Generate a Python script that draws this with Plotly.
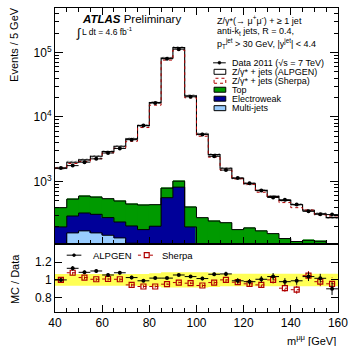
import numpy as np
import plotly.graph_objects as go

# ---- binning: m(mumu) in 5 GeV bins from 40 to 160 GeV ----
edges = np.arange(40, 165, 5)
centers = edges[:-1] + 2.5

# ---- main panel: events / 5 GeV ----
data_events = [1610, 1760, 1990, 2240, 2760, 3250, 4450, 7410, 16470, 80200, 112800, 20600,
               5370, 2455, 1500, 1130, 940, 721, 565, 518, 440, 344, 310, 306]
alpgen_total = [1610, 1990, 2160, 2460, 2910, 3510, 4570, 7340, 16800, 81800, 119000, 21400,
                5450, 2610, 1600, 1120, 920, 726, 586, 508, 436, 357, 316, 275]
sherpa_total = [1610, 1900, 2040, 2255, 2790, 3270, 4200, 6860, 15250, 76350, 109400, 19840,
                5030, 2380, 1500, 1100, 900, 680, 565, 470, 392, 360, 304, 292]

# backgrounds (stacked: multi-jets, electroweak, top)
multijet = [85, 159, 171, 159, 146, 133, 110, 60, 45, 40, 35, 30,
            25, 20, 18, 15, 12, 10, 8, 6, 5, 4, 3, 2]
electroweak = [112, 132, 153, 150, 129, 102, 94, 119, 157, 520, 781, 167,
               60, 40, 30, 25, 20, 18, 15, 12, 10, 8, 7, 6]
top = [195, 241, 269, 263, 265, 262, 242, 252, 234, 227, 194, 204,
       189, 183, 181, 139, 158, 143, 132, 112, 102, 110, 108, 87]

# ---- ratio panel: MC / Data ----
ratio_alpgen = [1.00, 1.13, 1.085, 1.10, 1.055, 1.08, 1.026, 0.99, 1.02, 1.02, 1.055, 1.037,
                1.015, 1.063, 1.067, 0.99, 0.98, 1.007, 1.037, 0.98, 0.99, 1.037, 1.018, 0.90]
ratio_alpgen_err = [0.015, 0.025, 0.02, 0.02, 0.02, 0.02, 0.02, 0.015, 0.012, 0.01, 0.01, 0.012,
                    0.02, 0.02, 0.025, 0.03, 0.03, 0.035, 0.04, 0.04, 0.045, 0.05, 0.05, 0.07]
ratio_sherpa = [1.00, 1.08, 1.026, 1.007, 1.01, 1.007, 0.944, 0.926, 0.926, 0.952, 0.97, 0.963,
                0.937, 0.97, 1.00, 0.974, 0.956, 0.944, 1.00, 0.907, 0.89, 1.048, 0.98, 0.956]
ratio_sherpa_err = [0.015, 0.025, 0.02, 0.02, 0.02, 0.02, 0.02, 0.015, 0.012, 0.01, 0.01, 0.012,
                    0.02, 0.02, 0.025, 0.03, 0.03, 0.035, 0.04, 0.04, 0.045, 0.05, 0.05, 0.07]
# data uncertainty band (relative half-width)
data_band = [0.065, 0.065, 0.065, 0.065, 0.065, 0.065, 0.065, 0.065, 0.075, 0.085, 0.085, 0.085,
             0.085, 0.08, 0.07, 0.07, 0.07, 0.07, 0.07, 0.07, 0.07, 0.07, 0.07, 0.07]

x_ticks = [40, 60, 80, 100, 120, 140, 160]
y_major = [1e3, 1e4, 1e5]
y_major_text = ["10<sup>3</sup>", "10<sup>4</sup>", "10<sup>5</sup>"]
ratio_ticks = [0.8, 1.0, 1.2]
ratio_tick_text = ["0.8", "1", "1.2"]

GREEN = "#009a00"
NAVY = "#000099"
LIGHT = "#99ccff"
RED = "#b00000"
YELLOW = "#ffff55"
FONT = "Liberation Sans, Arial, sans-serif"


def step_xy(vals):
    return list(edges), list(vals) + [vals[-1]]


fig = go.Figure()

# stacked background histograms
for vals, col in [(multijet, LIGHT), (electroweak, NAVY), (top, GREEN)]:
    fig.add_trace(go.Bar(x=centers, y=vals, width=5, marker=dict(color=col, line=dict(color=col, width=0.6)),
                         xaxis="x", yaxis="y", hoverinfo="skip"))

# black outlines of the stack
cum = np.cumsum(np.array([multijet, electroweak, top]), axis=0)
for row in cum:
    sx, sy = step_xy(list(row))
    fig.add_trace(go.Scatter(x=sx, y=sy, mode="lines", line=dict(color="black", width=1, shape="hv"),
                             xaxis="x", yaxis="y", hoverinfo="skip"))

# hatched uncertainty band on the ALPGEN prediction
alp = np.array(alpgen_total, dtype=float)
lx, ly = step_xy(list(alp * 0.95))
ux, uy = step_xy(list(alp * 1.05))
fig.add_trace(go.Scatter(x=lx, y=ly, mode="lines", line=dict(width=0, shape="hv"),
                         xaxis="x", yaxis="y", hoverinfo="skip"))
fig.add_trace(go.Scatter(x=ux, y=uy, mode="lines", line=dict(width=0, shape="hv"), fill="tonexty",
                         fillcolor="rgba(0,0,0,0)",
                         fillpattern=dict(shape="/", fgcolor="black", bgcolor="rgba(0,0,0,0)", size=3, solidity=0.35),
                         xaxis="x", yaxis="y", hoverinfo="skip"))

# MC predictions
sx, sy = step_xy(alpgen_total)
fig.add_trace(go.Scatter(x=sx, y=sy, mode="lines", line=dict(color="black", width=1.1, shape="hv"),
                         xaxis="x", yaxis="y", hoverinfo="skip"))
sx, sy = step_xy(sherpa_total)
fig.add_trace(go.Scatter(x=sx, y=sy, mode="lines", line=dict(color=RED, width=1, dash="dot", shape="hv"),
                         xaxis="x", yaxis="y", hoverinfo="skip"))

# data points
fig.add_trace(go.Scatter(x=centers, y=data_events, mode="markers",
                         marker=dict(color="black", size=4),
                         error_x=dict(type="constant", value=2.5, width=0, color="black", thickness=1),
                         xaxis="x", yaxis="y", hoverinfo="skip"))

# ---- ratio panel ----
band = np.array(data_band)
bx, by = step_xy(list(1 - band))
fig.add_trace(go.Scatter(x=bx, y=by, mode="lines", line=dict(width=0, shape="hv"),
                         xaxis="x2", yaxis="y2", hoverinfo="skip"))
bx, by = step_xy(list(1 + band))
fig.add_trace(go.Scatter(x=bx, y=by, mode="lines", line=dict(width=0, shape="hv"), fill="tonexty",
                         fillcolor=YELLOW, xaxis="x2", yaxis="y2", hoverinfo="skip"))

# Sherpa: dotted error bars + open squares
seg_x, seg_y = [], []
for c, r, e in zip(centers, ratio_sherpa, ratio_sherpa_err):
    seg_x += [c - 2.5, c + 2.5, None, c, c, None]
    seg_y += [r, r, None, r - e, r + e, None]
fig.add_trace(go.Scatter(x=seg_x, y=seg_y, mode="lines", line=dict(color=RED, width=1, dash="dot"),
                         xaxis="x2", yaxis="y2", hoverinfo="skip"))
fig.add_trace(go.Scatter(x=centers, y=ratio_sherpa, mode="markers",
                         marker=dict(symbol="square-open", color=RED, size=5, line=dict(width=1.2, color=RED)),
                         xaxis="x2", yaxis="y2", hoverinfo="skip"))

# ALPGEN: solid error bars + filled dots
fig.add_trace(go.Scatter(x=centers, y=ratio_alpgen, mode="markers",
                         marker=dict(color="black", size=4),
                         error_x=dict(type="constant", value=2.5, width=0, color="black", thickness=1),
                         error_y=dict(type="data", array=ratio_alpgen_err, width=0, color="black", thickness=1),
                         xaxis="x2", yaxis="y2", hoverinfo="skip"))

# ---- layout helpers (pixel -> paper) ----
L, R, T, B = 55, 345, 7, 312


def px(v):
    return (v - L) / (R - L)


def py(v):
    return (B - v) / (B - T)


split = py(244)

axis_common = dict(showline=True, linecolor="black", linewidth=1, ticks="inside", mirror="allticks",
                   showgrid=False, zeroline=False, tickcolor="black",
                   tickfont=dict(family=FONT, size=12, color="black"))

minor_log = [m * 10 ** k for k in range(2, 6) for m in range(2, 10)]
x_range = [40, 160.02]

fig.update_layout(
    width=355, height=346,
    margin=dict(l=L, r=355 - R, t=T, b=346 - B),
    paper_bgcolor="white", plot_bgcolor="white",
    showlegend=False, barmode="stack", bargap=0,
    xaxis=dict(domain=[0, 1], anchor="y", range=x_range, tickvals=x_ticks, showticklabels=False,
               ticklen=7, minor=dict(dtick=5, tick0=40, ticklen=4, ticks="inside", tickcolor="black"),
               **axis_common),
    yaxis=dict(domain=[split, 1], anchor="x", type="log", range=[2.026, 5.691],
               tickvals=y_major, ticktext=y_major_text, ticklen=8,
               minor=dict(tickvals=minor_log, ticklen=4, ticks="inside", tickcolor="black"),
               **axis_common),
    xaxis2=dict(domain=[0, 1], anchor="y2", range=x_range, tickvals=x_ticks, ticklen=7,
                ticklabeloverflow="allow",
                minor=dict(dtick=5, tick0=40, ticklen=4, ticks="inside", tickcolor="black"),
                **{**axis_common, "mirror": True}),
    yaxis2=dict(domain=[0, split], anchor="x2", range=[0.64, 1.4], tickvals=ratio_ticks,
                ticktext=ratio_tick_text, ticklen=7, **axis_common),
)

ann = []


def text(x, y, s, size=9, xanchor="left", **kw):
    ann.append(dict(x=px(x), y=py(y), xref="paper", yref="paper", text=s, showarrow=False,
                    xanchor=xanchor, yanchor="middle", font=dict(family=FONT, size=size, color="black"), **kw))


# ATLAS label and luminosity
text(81, 18, "<b><i>ATLAS</i></b> Preliminary", size=11.5)
text(74, 32, "∫", size=12.5)
text(81, 30.5, "L dt = 4.6 fb<sup>-1</sup>", size=8.5)

# legend header
text(219, 19, "Z/γ*(→ μ<sup>+</sup>μ<sup>-</sup>) + ≥ 1 jet", size=9)
text(219, 31, "anti-k<sub>t</sub> jets, R = 0.4,", size=9)
text(219, 43, "p<sub>T</sub><sup>jet</sup> > 30 GeV, |y<sup>jet</sup>| < 4.4", size=9)

legend_rows = [62, 71, 80, 89, 98, 107.5]
legend_labels = ["Data 2011 (√s = 7 TeV)", "Z/γ* + jets (ALPGEN)", "Z/γ* + jets (Sherpa)",
                 "Top", "Electroweak", "Multi-jets"]
for yy, lab in zip(legend_rows, legend_labels):
    text(234, yy, lab, size=9)

shapes = []
# data glyph
shapes.append(dict(type="line", xref="paper", yref="paper", x0=px(217), x1=px(230), y0=py(62), y1=py(62),
                   line=dict(color="black", width=1)))
shapes.append(dict(type="circle", xref="paper", yref="paper", x0=px(222), x1=px(225), y0=py(60.5), y1=py(63.5),
                   fillcolor="black", line=dict(color="black", width=0.5)))
# box glyphs
box_styles = [("white", "black", "solid"), ("white", RED, "dot"), (GREEN, "black", "solid"),
              (NAVY, "black", "solid"), (LIGHT, "black", "solid")]
for yy, (fc, lc, dash) in zip(legend_rows[1:], box_styles):
    shapes.append(dict(type="rect", xref="paper", yref="paper", x0=px(218), x1=px(230),
                       y0=py(yy + 2.5), y1=py(yy - 2.5), fillcolor=fc,
                       line=dict(color=lc, width=1, dash=dash)))

# ratio panel legend
ry = 255
shapes.append(dict(type="line", xref="paper", yref="paper", x0=px(67), x1=px(82), y0=py(ry), y1=py(ry),
                   line=dict(color="black", width=1)))
shapes.append(dict(type="circle", xref="paper", yref="paper", x0=px(73), x1=px(76), y0=py(ry - 1.5), y1=py(ry + 1.5),
                   fillcolor="black", line=dict(color="black", width=0.5)))
text(92, ry, "ALPGEN", size=9.5)
shapes.append(dict(type="line", xref="paper", yref="paper", x0=px(140), x1=px(158), y0=py(ry), y1=py(ry),
                   line=dict(color=RED, width=1, dash="dot")))
shapes.append(dict(type="rect", xref="paper", yref="paper", x0=px(146.5), x1=px(151.5), y0=py(ry + 2.5), y1=py(ry - 2.5),
                   fillcolor="white", line=dict(color=RED, width=1.2)))
text(163, ry, "Sherpa", size=9.5)

# axis titles
ann.append(dict(x=px(13), y=py(44), xref="paper", yref="paper", text="Events / 5 GeV", showarrow=False,
                textangle=-90, xanchor="center", yanchor="middle", font=dict(family=FONT, size=11, color="black")))
ann.append(dict(x=px(14), y=py(279), xref="paper", yref="paper", text="MC / Data", showarrow=False,
                textangle=-90, xanchor="center", yanchor="middle", font=dict(family=FONT, size=11, color="black")))
text(345, 340, "m<sup>μμ</sup> [GeV]", size=11, xanchor="right")

fig.update_layout(annotations=ann, shapes=shapes)
fig.write_html("out.html")
